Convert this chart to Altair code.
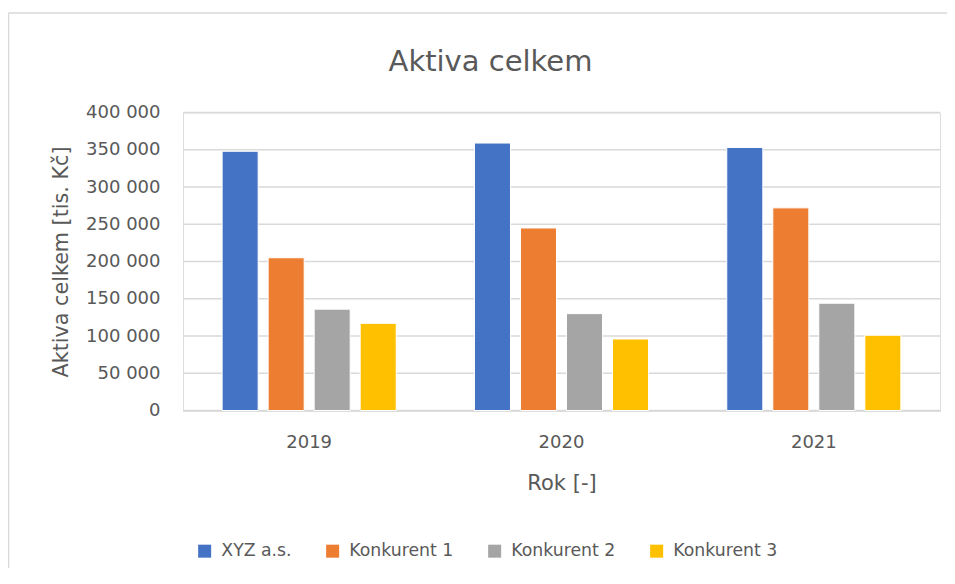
import altair as alt
import pandas as pd

years = ["2019", "2020", "2021"]
series = ["XYZ a.s.", "Konkurent 1", "Konkurent 2", "Konkurent 3"]
xyz = [348000, 359000, 353000]
k1 = [205000, 245000, 272000]
k2 = [136000, 130000, 144000]
k3 = [117000, 96000, 101000]
colors = ["#4472C4", "#ED7D31", "#A5A5A5", "#FFC000"]
y_ticks = [0, 50000, 100000, 150000, 200000, 250000, 300000, 350000, 400000]

rows = []
for name, vals in zip(series, [xyz, k1, k2, k3]):
    for yr, v in zip(years, vals):
        rows.append({"Rok": yr, "Série": name, "Hodnota": v})
df = pd.DataFrame(rows)
grid_df = pd.DataFrame({"Hodnota": y_ticks})

FONT = "DejaVu Sans"
TXT = "#595959"
GRID = "#D9D9D9"

W, H = 757, 298

y_scale = alt.Scale(domain=[0, 400000], nice=False)
y_axis = alt.Axis(title="Aktiva celkem [tis. Kč]", values=y_ticks,
                  labelExpr="replace(format(datum.value, ','), ',', ' ')",
                  ticks=False, domain=False, grid=False,
                  labelPadding=23, labelFontSize=18, labelFont=FONT,
                  labelColor=TXT, titleFontSize=20.7, titleFont=FONT,
                  titleColor=TXT, titleFontWeight="normal",
                  titleX=-122, titleY=H / 2, titleBaseline="middle",
                  titleAngle=-90, titleAlign="center")

grid = alt.Chart(grid_df).mark_rule(color=GRID, strokeWidth=1.5).encode(
    y=alt.Y("Hodnota:Q", scale=y_scale, axis=y_axis),
    x=alt.value(0), x2=alt.value(W),
)

bars = alt.Chart(df).mark_bar(stroke="white", strokeWidth=1).encode(
    x=alt.X("Rok:N", sort=years,
            scale=alt.Scale(paddingInner=0.31, paddingOuter=0.155),
            axis=alt.Axis(title="Rok [-]", labelAngle=0, ticks=False,
                          grid=False,
                          domain=True, domainColor=GRID, domainWidth=1.5,
                          labelPadding=23, labelFontSize=18, labelFont=FONT,
                          labelColor=TXT, titleFontSize=21, titleFont=FONT,
                          titleColor=TXT, titleFontWeight="normal",
                          titleX=W / 2, titleY=72.5, titleBaseline="middle")),
    xOffset=alt.XOffset("Série:N", sort=series,
                        scale=alt.Scale(paddingInner=0.217, paddingOuter=0)),
    y=alt.Y("Hodnota:Q", scale=y_scale, axis=y_axis),
    color=alt.Color("Série:N", sort=series,
                    scale=alt.Scale(domain=series, range=colors),
                    legend=alt.Legend(title=None, orient="none",
                                      direction="horizontal",
                                      legendX=13, legendY=430,
                                      symbolType="square", symbolSize=169,
                                      symbolStrokeWidth=0,
                                      labelFontSize=17.3, labelFont=FONT,
                                      labelColor=TXT, labelOffset=8,
                                      columnPadding=32)),
)

frame_df = pd.DataFrame({"k": [0]})
top_line = alt.Chart(frame_df).mark_rule(color=GRID, strokeWidth=1.5).encode(
    x=alt.value(-174.5), x2=alt.value(W + 8), y=alt.value(-99.5)
)
left_line = alt.Chart(frame_df).mark_rule(color=GRID, strokeWidth=1.5).encode(
    x=alt.value(-174.5), y=alt.value(-99.5), y2=alt.value(H + 160)
)

chart = alt.layer(grid, bars, top_line, left_line).properties(
    width=W, height=H,
    title=alt.TitleParams("Aktiva celkem", fontSize=29, font=FONT,
                          color=TXT, fontWeight="normal", anchor="middle",
                          dx=-71, offset=-65),
    autosize=alt.AutoSizeParams(type="none"),
    padding={"left": 175, "top": 104.5, "right": 7, "bottom": 157.5},
).configure_view(stroke="transparent", strokeWidth=0).configure(background="white")

chart.save("out.html", embed_options={"renderer": "svg", "actions": False})
